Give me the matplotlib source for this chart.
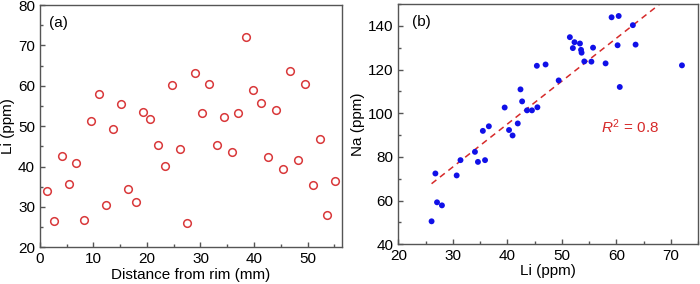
import numpy as np
import matplotlib
matplotlib.use('Agg')
import matplotlib.pyplot as plt

plt.rcParams['font.family'] = ['Liberation Sans', 'DejaVu Sans']
plt.rcParams['mathtext.fontset'] = 'custom'
plt.rcParams['mathtext.rm'] = 'Liberation Sans'
plt.rcParams['mathtext.it'] = 'Liberation Sans:italic'

# panel (a): Li content versus distance from rim
distance = [1.3, 2.7, 4.05, 5.4, 6.8, 8.2, 9.5, 11.0, 12.3, 13.7,
            15.1, 16.5, 17.9, 19.25, 20.6, 22.0, 23.4, 24.7, 26.2, 27.5,
            28.9, 30.3, 31.6, 33.0, 34.4, 35.8, 37.1, 38.5, 39.9, 41.3,
            42.7, 44.05, 45.4, 46.8, 48.2, 49.5, 51.0, 52.3, 53.7, 55.1]
li_profile = [33.9, 26.6, 42.6, 35.8, 40.8, 26.9, 51.4, 58.0, 30.6, 49.3,
              55.4, 34.5, 31.2, 53.5, 51.9, 45.3, 40.1, 60.2, 44.4, 26.1,
              63.1, 53.3, 60.4, 45.3, 52.2, 43.6, 53.4, 72.1, 59.0, 55.7,
              42.3, 54.0, 39.4, 63.6, 41.7, 60.5, 35.4, 46.8, 27.9, 36.4]

# panel (b): Na versus Li
li = [35.5, 36.6, 39.5, 40.3, 40.95, 41.9, 42.4, 42.7, 43.6, 44.5,
      45.5, 45.4, 47.0, 49.4, 51.45, 52.0, 52.3, 53.3, 53.5, 53.6,
      54.1, 55.7, 55.4, 58.0, 59.1, 60.4, 60.2, 60.6, 63.0, 63.5,
      72.0, 34.05, 34.6, 35.9, 31.4, 30.7, 26.8, 27.1, 28.0, 26.1]
na = [91.9, 94.0, 102.6, 92.3, 89.8, 95.3, 110.9, 105.4, 101.3, 101.3,
      102.7, 121.7, 122.3, 115.0, 134.8, 129.8, 132.5, 131.9, 129.0, 127.7,
      123.7, 130.0, 123.6, 122.8, 143.9, 144.5, 131.1, 112.0, 140.3, 131.4,
      121.9, 82.3, 77.7, 78.5, 78.5, 71.5, 72.4, 59.2, 57.8, 50.5]

# regression line
fit_slope = 1.966
fit_intercept = 16.4
r2_value = 0.8

spine_col = '#555555'

fig = plt.figure(figsize=(7.0, 2.84), dpi=100)
ax1 = fig.add_axes([0.057, 0.129, 0.432, 0.853])
ax2 = fig.add_axes([0.569, 0.140, 0.4286, 0.846])

for ax in (ax1, ax2):
    for sp in ax.spines.values():
        sp.set_color(spine_col)
        sp.set_linewidth(1.0)
    ax.tick_params(which='both', direction='in', color=spine_col,
                   labelsize=11, top=False, right=False)
    ax.tick_params(which='major', length=3.5, width=1.0)
    ax.tick_params(which='minor', length=2, width=1.0)

# (a)
ax1.plot(distance, li_profile, 'o', mfc='none', mec='#d9383a', mew=1.1, ms=5.5)
ax1.set_xlim(0, 56.5)
ax1.set_ylim(20, 80)
ax1.set_xticks(np.arange(0, 51, 10))
ax1.set_xticks(np.arange(5, 56, 10), minor=True)
ax1.set_yticks(np.arange(20, 81, 10))
ax1.set_yticks(np.arange(25, 80, 10), minor=True)
ax1.set_xlabel('Distance from rim (mm)', fontsize=11, labelpad=1)
ax1.set_ylabel('Li (ppm)', fontsize=11, labelpad=2)
ax1.text(0.03, 0.955, '(a)', transform=ax1.transAxes, fontsize=11, va='top')

# (b)
ax2.scatter(li, na, s=18, color='#1010e8', edgecolors='none', zorder=3)
x_fit = np.linspace(min(li), (150 - fit_intercept) / fit_slope, 50)
ax2.plot(x_fit, fit_slope * x_fit + fit_intercept, '--', color='#d62a2a',
         lw=1.1, dashes=(4, 3), zorder=2)
ax2.set_xlim(20, 75)
ax2.set_ylim(40, 150)
ax2.set_xticks(np.arange(20, 71, 10))
ax2.set_xticks(np.arange(25, 76, 10), minor=True)
ax2.set_yticks(np.arange(40, 141, 20))
ax2.set_yticks(np.arange(50, 151, 20), minor=True)
ax2.set_xlabel('Li (ppm)', fontsize=11, labelpad=1)
ax2.set_ylabel('Na (ppm)', fontsize=11, labelpad=2)
ax2.text(0.045, 0.955, '(b)', transform=ax2.transAxes, fontsize=11, va='top')
ax2.text(57.2, 93.7, '$R^2$ = %.1f' % r2_value, color='#d62a2a', fontsize=11,
         va='center', ha='left')

fig.savefig('out.png', dpi=100)
